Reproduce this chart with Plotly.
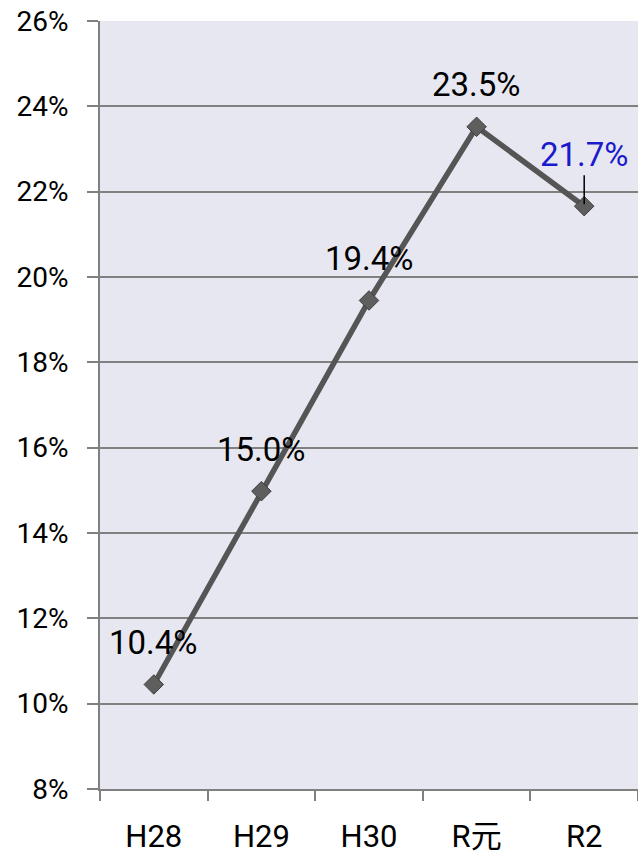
import plotly.graph_objects as go

categories = ["H28", "H29", "H30", "R元", "R2"]
values = [10.45, 14.98, 19.45, 23.52, 21.66]
labels = ["10.4%", "15.0%", "19.4%", "23.5%", "21.7%"]
label_colors = ["#000000", "#000000", "#000000", "#000000", "#1A1ACC"]
y_ticks = [8, 10, 12, 14, 16, 18, 20, 22, 24, 26]
y_tick_text = [f"{v}%" for v in y_ticks]

FONT = "Roboto, 'Noto Sans CJK JP', sans-serif"

fig = go.Figure()
fig.add_trace(go.Scatter(
    x=categories, y=values, mode="lines+markers",
    line=dict(color="#555555", width=5.5),
    marker=dict(symbol="diamond", size=15, color="#5E5E5E",
                line=dict(color="#3F3F3F", width=1)),
    hoverinfo="skip", showlegend=False,
))

for i, (c, v, t, col) in enumerate(zip(categories, values, labels, label_colors)):
    if i == len(categories) - 1:
        fig.add_annotation(x=c, y=v, text=t, showarrow=True, arrowhead=0,
                           arrowwidth=1.5, arrowcolor="#000000", ax=0, ay=-52,
                           standoff=2, font=dict(family=FONT, size=33, color=col))
    else:
        fig.add_annotation(x=c, y=v, text=t, showarrow=False, yshift=42,
                           font=dict(family=FONT, size=33, color=col))

fig.update_layout(
    width=638, height=855,
    margin=dict(l=100, r=0, t=21, b=66, autoexpand=False),
    paper_bgcolor="#FFFFFF",
    plot_bgcolor="#E7E7F1",
    font=dict(family=FONT, color="#000000"),
)
fig.update_xaxes(
    type="category", tickson="boundaries", ticks="outside", ticklen=10,
    tickwidth=1.5, tickcolor="#808080", showgrid=False,
    showline=True, linecolor="#808080", linewidth=2,
    tickfont=dict(family=FONT, size=31), ticklabelstandoff=19,
    range=[-0.5, 4.5], automargin=False,
)
fig.update_yaxes(
    range=[8, 26], tickvals=y_ticks, ticktext=y_tick_text,
    ticks="outside", ticklen=11, tickwidth=2, tickcolor="#808080",
    showgrid=True, gridcolor="#808080", gridwidth=2,
    showline=True, linecolor="#808080", linewidth=2,
    zeroline=False, tickfont=dict(family=FONT, size=28),
    ticklabelstandoff=13, automargin=False,
)

fig.write_html("out.html", config={"displayModeBar": False},
               post_script="document.body.style.margin='0';document.body.style.overflow='hidden';")
